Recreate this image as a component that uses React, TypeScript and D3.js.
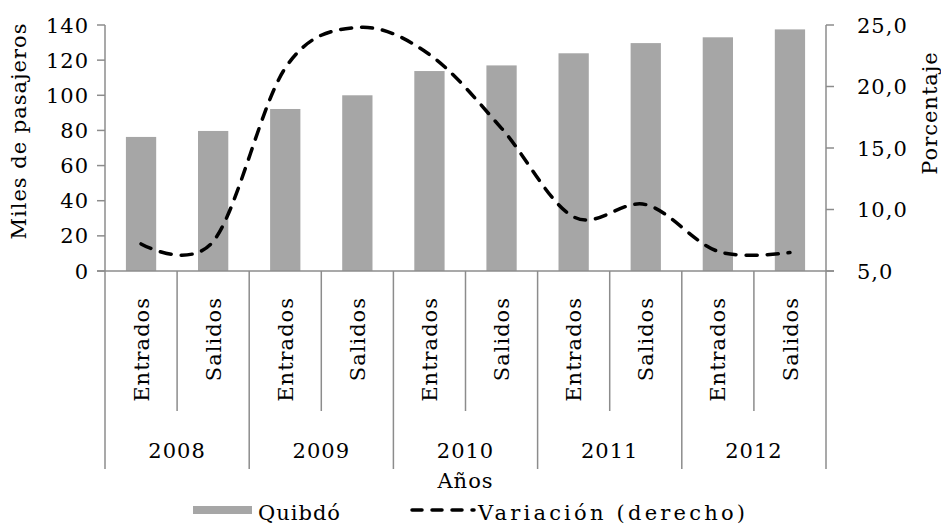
import React, { useEffect, useRef } from "react";
import * as d3 from "d3";

// datos
const years = ["2008", "2009", "2010", "2011", "2012"];
const flows = ["Entrados", "Salidos"];
const pasajeros = [76.3, 79.7, 92.2, 100, 113.8, 117, 123.9, 129.7, 133, 137.5];
const variacion = [7.2, 7.4, 21.5, 24.8, 22.6, 16.6, 9.4, 10.4, 6.6, 6.5];
const leftTicks = [0, 20, 40, 60, 80, 100, 120, 140];
const rightTicks = [5, 10, 15, 20, 25];

const W = 941;
const H = 525;
const FONT = "'DejaVu Serif', serif";
const FS = 21;
const LS = 1;
const AXIS = "#8c8c8c";

export default function App() {
  const ref = useRef<SVGSVGElement>(null);

  useEffect(() => {
    const svg = d3.select(ref.current);
    svg.selectAll("*").remove();
    svg.attr("font-family", FONT).attr("font-size", FS).attr("letter-spacing", LS);

    const left = 105, right = 826, top = 25, bottom = 271;
    const cats = years.flatMap((y) => flows.map((f) => y + "|" + f));

    const x = d3.scaleBand().domain(cats).range([left, right]).paddingInner(0).paddingOuter(0);
    const yL = d3.scaleLinear().domain([0, 140]).range([bottom, top]);
    const yR = d3.scaleLinear().domain([5, 25]).range([bottom, top]);
    const bw = x.bandwidth() * 0.42;

    // bars
    svg.append("g")
      .selectAll("rect")
      .data(pasajeros)
      .enter()
      .append("rect")
      .attr("x", (d, i) => x(cats[i])! + x.bandwidth() / 2 - bw / 2)
      .attr("y", (d) => yL(d))
      .attr("width", bw)
      .attr("height", (d) => bottom - yL(d))
      .attr("fill", "#a6a6a6");

    // left axis
    svg.append("line").attr("x1", left).attr("x2", left).attr("y1", top).attr("y2", 469)
      .attr("stroke", AXIS).attr("stroke-width", 1.5);
    leftTicks.forEach((t) => {
      svg.append("line").attr("x1", left - 8).attr("x2", left).attr("y1", yL(t)).attr("y2", yL(t))
        .attr("stroke", AXIS).attr("stroke-width", 1.5);
      svg.append("text").attr("x", 89).attr("y", yL(t)).attr("dy", "0.36em")
        .attr("text-anchor", "end").text(t);
    });

    // right axis
    svg.append("line").attr("x1", right).attr("x2", right).attr("y1", top).attr("y2", 469)
      .attr("stroke", AXIS).attr("stroke-width", 1.5);
    rightTicks.forEach((t) => {
      svg.append("line").attr("x1", right).attr("x2", right + 8).attr("y1", yR(t)).attr("y2", yR(t))
        .attr("stroke", AXIS).attr("stroke-width", 1.5);
      svg.append("text").attr("x", 857).attr("y", yR(t)).attr("dy", "0.36em")
        .text(d3.format(".1f")(t).replace(".", ","));
    });

    // base line
    svg.append("line").attr("x1", left - 8).attr("x2", right + 8).attr("y1", bottom).attr("y2", bottom)
      .attr("stroke", AXIS).attr("stroke-width", 1.5);

    // category separators + labels
    cats.forEach((c, i) => {
      const x0 = x(c)!;
      if (i > 0) {
        svg.append("line").attr("x1", x0).attr("x2", x0).attr("y1", bottom)
          .attr("y2", i % 2 === 0 ? 469 : 411)
          .attr("stroke", AXIS).attr("stroke-width", 1.5);
      }
      svg.append("text")
        .attr("transform", `translate(${x0 + x.bandwidth() / 2},297) rotate(-90)`)
        .attr("text-anchor", "end").attr("dy", "0.36em")
        .text(c.split("|")[1]);
    });
    years.forEach((yr) => {
      const cx = x(yr + "|" + flows[0])! + x.bandwidth();
      svg.append("text").attr("x", cx).attr("y", 458).attr("text-anchor", "middle").text(yr);
    });

    // line
    const line = d3.line<number>()
      .x((d, i) => x(cats[i])! + x.bandwidth() / 2)
      .y((d) => yR(d))
      .curve(d3.curveCardinal.tension(0));
    svg.append("path").datum(variacion).attr("d", line).attr("fill", "none")
      .attr("stroke", "#000").attr("stroke-width", 3.5)
      .attr("stroke-dasharray", "11,10").attr("stroke-linecap", "round");

    // axis titles
    svg.append("text").attr("transform", "translate(18,131) rotate(-90)")
      .attr("text-anchor", "middle").attr("dy", "0.36em").text("Miles de pasajeros");
    svg.append("text").attr("transform", "translate(929,113) rotate(-90)")
      .attr("text-anchor", "middle").attr("dy", "0.36em").text("Porcentaje");
    svg.append("text").attr("x", (left + right) / 2).attr("y", 488).attr("text-anchor", "middle")
      .text("Años");

    // legend
    svg.append("rect").attr("x", 193).attr("y", 506).attr("width", 59).attr("height", 8).attr("fill", "#a6a6a6");
    svg.append("text").attr("x", 258).attr("y", 520).text("Quibdó");
    svg.append("line").attr("x1", 412).attr("x2", 474).attr("y1", 510).attr("y2", 510)
      .attr("stroke", "#000").attr("stroke-width", 3.5)
      .attr("stroke-dasharray", "10,10").attr("stroke-linecap", "round");
    svg.append("text").attr("x", 478).attr("y", 520)
      .attr("textLength", 268).attr("lengthAdjust", "spacing")
      .text("Variación (derecho)");
  }, []);

  return (
    <svg ref={ref} width={W} height={H}
      style={{ position: "absolute", left: 0, top: 0, background: "#fff" }} />
  );
}
